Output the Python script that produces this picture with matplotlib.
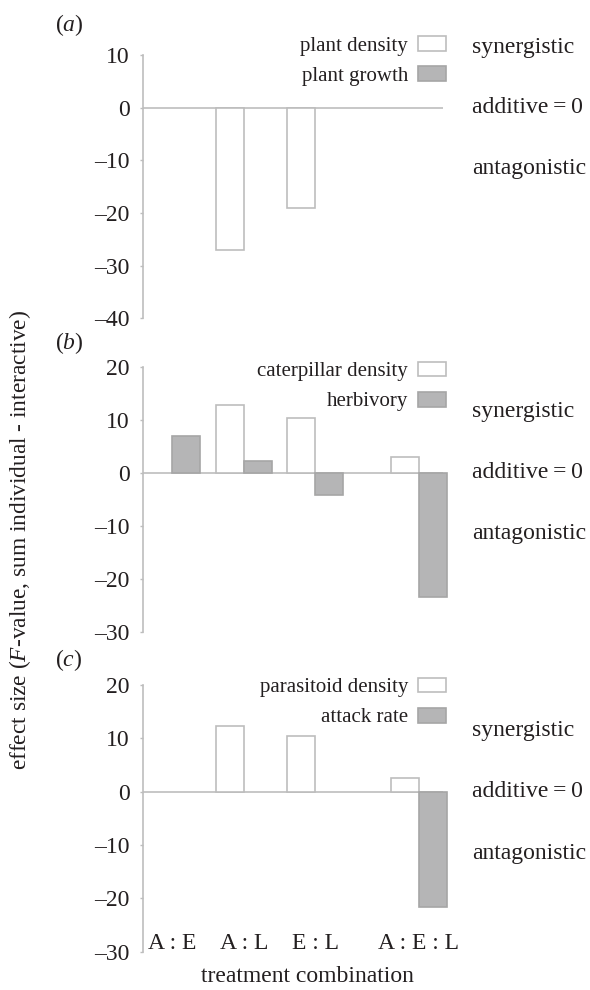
import numpy as np
import matplotlib
matplotlib.use('Agg')
import matplotlib.pyplot as plt
from matplotlib.patches import Patch

plt.rcParams['font.family'] = ['Liberation Serif', 'DejaVu Serif']
plt.rcParams['mathtext.fontset'] = 'custom'
plt.rcParams['mathtext.rm'] = 'Liberation Serif'
plt.rcParams['mathtext.it'] = 'Liberation Serif:italic'

# treatment combinations (A:E:L sits a bit further to the right)
combos = ['A : E', 'A : L', 'E : L', 'A : E : L']
xpos = np.array([0, 1, 2, 3.45])

# panel (a)
a_names = ['plant density', 'plant growth']
a_density = [np.nan, -27.0, -19.0, np.nan]
a_growth = [np.nan, np.nan, np.nan, np.nan]

# panel (b)
b_names = ['caterpillar density', 'herbivory']
b_density = [np.nan, 12.7, 10.3, 3.0]
b_herbivory = [7.0, 2.3, -4.3, -23.5]

# panel (c)
c_names = ['parasitoid density', 'attack rate']
c_density = [np.nan, 12.4, 10.4, 2.5]
c_attack = [np.nan, np.nan, np.nan, -21.6]

tags = ['a', 'b', 'c']
ylims = [(-40, 10), (-30, 20), (-30, 20)]
yticks = [np.arange(-40, 11, 10), np.arange(-30, 21, 10), np.arange(-30, 21, 10)]
series = [(a_density, a_growth), (b_density, b_herbivory), (c_density, c_attack)]
names = [a_names, b_names, c_names]

grey_line = '#bdbdbd'
grey_fill = '#b5b5b6'
txt = '#231f20'

W, H = 590, 990
fig = plt.figure(figsize=(W / 100, H / 100), dpi=100)

# axes boxes in pixels: (top, bottom)
boxes = [(55, 318.3), (366.7, 631.7), (685, 951.7)]
leg_tops = [36, 361.6, 677.6]
tag_y = [25, 342.7, 660]
left_px, right_px = 143, 443
bw = 0.39

for i in range(3):
    top, bot = boxes[i]
    ax = fig.add_axes([left_px / W, 1 - bot / H, (right_px - left_px) / W, (bot - top) / H])
    dens, other = series[i]
    ax.bar(xpos - bw / 2, dens, width=bw, facecolor='white', edgecolor=grey_line,
           linewidth=1.2, clip_on=False, zorder=2)
    ax.bar(xpos + bw / 2, other, width=bw, facecolor=grey_fill, edgecolor='#a6a6a6',
           linewidth=1.2, clip_on=False, zorder=2)
    ax.axhline(0, color=grey_line, linewidth=1.2, zorder=1)
    ax.set_xlim(-0.41, 3.79)
    ax.set_ylim(*ylims[i])
    ax.set_yticks(yticks[i])
    ax.set_yticklabels([str(v) if v >= 0 else '\u2013' + str(-v) for v in yticks[i]])
    ax.set_xticks([])
    for s in ['top', 'right', 'bottom']:
        ax.spines[s].set_visible(False)
    ax.spines['left'].set_color(grey_line)
    ax.spines['left'].set_linewidth(1.2)
    ax.tick_params(axis='y', direction='out', length=2.5, width=1, color=grey_line,
                   labelsize=17, labelcolor=txt, pad=7)

    # right-hand side annotation
    tr = ax.get_yaxis_transform()
    ax.text(1.097, 11.5, 'synergistic', transform=tr, fontsize=17, color=txt, va='center')
    ax.text(1.097, 0, 'additive\u2009=\u20090', transform=tr, fontsize=17, color=txt, va='center')
    ax.text(1.097, -11.5, 'antagonistic', transform=tr, fontsize=17, color=txt, va='center')

    handles = [Patch(facecolor='white', edgecolor=grey_line, linewidth=1.2),
               Patch(facecolor=grey_fill, edgecolor='#a6a6a6', linewidth=1.2)]
    ax.legend(handles, names[i], loc='upper right', bbox_to_anchor=(445.7 / W, 1 - leg_tops[i] / H),
              bbox_transform=fig.transFigure, markerfirst=False, frameon=False, fontsize=15,
              handlelength=1.35, handleheight=0.72, handletextpad=0.45, labelspacing=0.5,
              borderpad=0, borderaxespad=0, labelcolor=txt)

    fig.text(55 / W, 1 - tag_y[i] / H, '($\\mathit{' + tags[i] + '}$)', fontsize=17, color=txt,
             va='center', ha='left')

    if i == 2:
        for x, lab in zip(xpos, combos):
            ax.text(x, -28.5, lab, ha='center', va='center', fontsize=17, color=txt)

fig.text(20 / W, 1 - 540 / H, 'effect size ($\\mathit{F}$-value, sum individual - interactive)',
         rotation=90, fontsize=16.8, color=txt, ha='center', va='center')
fig.text(307 / W, 1 - 977 / H, 'treatment combination', fontsize=17, color=txt,
         ha='center', va='center')

fig.savefig('out.png', dpi=100)
